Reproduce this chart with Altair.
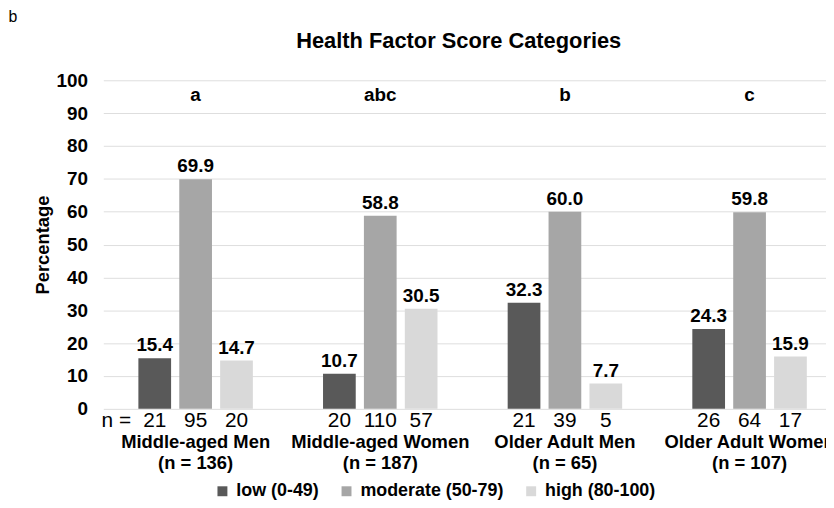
import altair as alt
import pandas as pd

groups = ["Middle-aged Men", "Middle-aged Women", "Older Adult Men", "Older Adult Women"]
group_n = [136, 187, 65, 107]
letters = ["a", "abc", "b", "c"]
categories = ["low (0-49)", "moderate (50-79)", "high (80-100)"]
low = [15.4, 10.7, 32.3, 24.3]
moderate = [69.9, 58.8, 60.0, 59.8]
high = [14.7, 30.5, 7.7, 15.9]
n_low = [21, 20, 21, 26]
n_mod = [95, 110, 39, 64]
n_high = [20, 57, 5, 17]
y_ticks = list(range(0, 101, 10))
colors = ["#595959", "#a6a6a6", "#d9d9d9"]

FONT = "Liberation Sans"

rows = []
for i, g in enumerate(groups):
    for cat, vals, ns in zip(categories, [low, moderate, high], [n_low, n_mod, n_high]):
        rows.append({"group": g, "category": cat, "value": vals[i],
                     "label": f"{vals[i]:.1f}", "n": str(ns[i])})
df = pd.DataFrame(rows)

gdf = pd.DataFrame({"group": groups, "letter": letters,
                    "glabel": [f"{g}\n(n = {n})" for g, n in zip(groups, group_n)]})

xenc = alt.X("group:N", sort=groups,
             scale=alt.Scale(range=[0, 744], paddingInner=0.38, paddingOuter=0.19),
             axis=None)
xoff = alt.XOffset("category:N", sort=categories,
                   scale=alt.Scale(paddingInner=0.2, paddingOuter=0))
yscale = alt.Scale(domain=[0, 100], nice=False)
yaxis = alt.Axis(values=y_ticks, tickCount=11, title="Percentage", labelOverlap=False,
                 domain=False, ticks=False, tickSize=0,
                 labelFont=FONT, labelFontSize=19, labelFontWeight="bold",
                 labelColor="#000000", labelPadding=16,
                 titleFont=FONT, titleFontSize=18.5, titleFontWeight="bold",
                 titleColor="#000000", titlePadding=3,
                 grid=True, gridColor="#dedede", gridWidth=1)

base = alt.Chart(df)

bars = base.mark_bar().encode(
    x=xenc, xOffset=xoff,
    y=alt.Y("value:Q", scale=yscale, axis=yaxis),
    color=alt.Color("category:N", sort=categories,
                    scale=alt.Scale(domain=categories, range=colors),
                    legend=alt.Legend(title=None, orient="none", legendX=111, legendY=405,
                                      direction="horizontal", symbolType="square",
                                      symbolSize=100, symbolStrokeWidth=0,
                                      labelFont=FONT, labelFontSize=18,
                                      labelFontWeight="bold", labelColor="#000000",
                                      labelOffset=5, columnPadding=18, padding=0)),
)

vlabels = base.mark_text(baseline="alphabetic", dy=-7, font=FONT, fontSize=19,
                         fontWeight="bold", color="#000000").encode(
    x=xenc, xOffset=xoff, y=alt.Y("value:Q", scale=yscale, axis=yaxis), text="label:N")

nlabels = base.mark_text(baseline="middle", font=FONT, fontSize=21,
                         color="#000000").encode(
    x=xenc, xOffset=xoff, y=alt.value(343), text="n:N")

gbase = alt.Chart(gdf)
letter_text = gbase.mark_text(baseline="middle", font=FONT, fontSize=19,
                              fontWeight="bold", color="#000000").encode(
    x=xenc, y=alt.datum(95.5, scale=yscale, axis=yaxis, type="quantitative"), text="letter:N")

group_text = gbase.mark_text(baseline="alphabetic", lineBreak="\n", lineHeight=22,
                             font=FONT, fontSize=18.5, fontWeight="bold",
                             color="#000000").encode(
    x=xenc, y=alt.value(370), text="glabel:N")

n_eq = alt.Chart(pd.DataFrame({"t": ["n ="]})).mark_text(
    align="right", baseline="middle", font=FONT, fontSize=21, color="#000000").encode(
    x=alt.value(28), y=alt.value(343), text="t:N")

title = alt.Chart(pd.DataFrame({"t": ["Health Factor Score Categories"]})).mark_text(
    align="center", baseline="alphabetic", font=FONT, fontSize=22, fontWeight="bold",
    color="#000000").encode(x=alt.value(358), y=alt.value(-33), text="t:N")

panel = alt.Chart(pd.DataFrame({"t": ["b"]})).mark_text(
    align="center", baseline="alphabetic", font=FONT, fontSize=16, color="#000000").encode(
    x=alt.value(-91), y=alt.value(-59), text="t:N")

chart = alt.layer(bars, vlabels, nlabels, letter_text, group_text, n_eq, title, panel).properties(
    width=728, height=331,
    autosize=alt.AutoSizeParams(type="none"),
    padding={"left": 96, "top": 71, "right": 0, "bottom": 90},
).configure_view(stroke=None)

chart.save("out.html", embed_options={"renderer": "svg", "actions": False})
